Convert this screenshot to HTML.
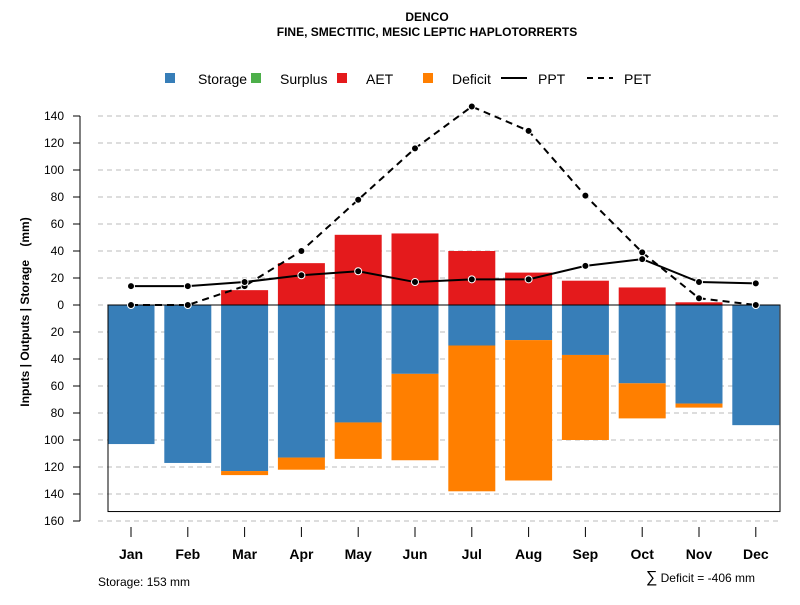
<!DOCTYPE html>
<html><head><meta charset="utf-8"><style>
body{margin:0;background:#fff}
svg text{font-family:"Liberation Sans",sans-serif}
</style></head><body>
<svg id="c" width="800" height="600" xmlns="http://www.w3.org/2000/svg">
<text x="427" y="21" text-anchor="middle" font-size="12" font-weight="bold">DENCO</text>
<text x="427" y="36" text-anchor="middle" font-size="12" font-weight="bold">FINE, SMECTITIC, MESIC LEPTIC HAPLOTORRERTS</text>
<text transform="translate(29,312) rotate(-90)" text-anchor="middle" font-size="12" font-weight="bold">Inputs | Outputs | Storage&#160;&#160;&#160;&#160;(mm)</text>
<text x="98" y="586" font-size="12">Storage: 153 mm</text>
<text x="755" y="582" text-anchor="end" font-size="12"><tspan font-size="16">∑</tspan> Deficit = -406 mm</text>
<g id="legend">
<rect x="165" y="73" width="10" height="10" fill="#377EB8"/><text x="198" y="84" font-size="14">Storage</text>
<rect x="251" y="73" width="10" height="10" fill="#4DAF4A"/><text x="280" y="84" font-size="14">Surplus</text>
<rect x="337" y="73" width="10" height="10" fill="#E41A1C"/><text x="366" y="84" font-size="14">AET</text>
<rect x="423" y="73" width="10" height="10" fill="#FF7F00"/><text x="452" y="84" font-size="14">Deficit</text>
<line x1="501" y1="78" x2="527" y2="78" stroke="#000" stroke-width="2"/><text x="538" y="84" font-size="14">PPT</text>
<line x1="587" y1="78" x2="613" y2="78" stroke="#000" stroke-width="2" stroke-dasharray="6,5"/><text x="624" y="84" font-size="14">PET</text>
</g>
</svg>
<script>
const months=["Jan","Feb","Mar","Apr","May","Jun","Jul","Aug","Sep","Oct","Nov","Dec"];
const aet=[0,0,11,31,52,53,40,24,18,13,2,0];
const storage=[103,117,123,113,87,51,30,26,37,58,73,89];
const deficit=[0,0,3,9,27,64,108,104,63,26,3,0];
const ppt=[14,14,17,22,25,17,19,19,29,34,17,16];
const pet=[0,0,14,40,78,116,147,129,81,39,5,0];
const yTicks=[140,120,100,80,60,40,20,0,20,40,60,80,100,120,140,160];
const yTickVals=[140,120,100,80,60,40,20,0,-20,-40,-60,-80,-100,-120,-140,-160];
const soilStorage=153;
const NS="http://www.w3.org/2000/svg";
const svg=document.getElementById('c');
const y=v=>305-v*1.35;
const x=i=>131+i*56.8;
function mk(t,a,parent){const e=document.createElementNS(NS,t);for(const k in a)e.setAttribute(k,a[k]);(parent||svg).appendChild(e);return e;}
const grid=mk('g',{});


yTickVals.forEach((v,i)=>{
  const g=mk('line',{x1:98,x2:780,y1:y(v),y2:y(v),stroke:'#bbb','stroke-dasharray':'5,4'},grid);
  
  
  const t=mk('line',{x1:73,x2:80,y1:y(v),y2:y(v),stroke:'#000'});
  
  
  const l=mk('text',{x:64,y:y(v)+4,'text-anchor':'end','font-size':12});
  l.textContent=yTicks[i];
  
  
});
const ax=mk('line',{x1:80,x2:80,y1:y(140),y2:y(-160),stroke:'#000'});


const bw=47;
months.forEach((m,i)=>{
  const b1=mk('rect',{x:x(i)-bw/2,y:y(aet[i]),width:bw,height:aet[i]*1.35,fill:'#E41A1C'});
  
  
  const b2=mk('rect',{x:x(i)-bw/2,y:y(0),width:bw,height:storage[i]*1.35,fill:'#377EB8'});
  
  
  const b3=mk('rect',{x:x(i)-bw/2,y:y(-storage[i]),width:bw,height:deficit[i]*1.35,fill:'#FF7F00'});
  
  
  const tk=mk('line',{x1:x(i),x2:x(i),y1:527,y2:537,stroke:'#000'});
  
  
  const lb=mk('text',{x:x(i),y:559,'text-anchor':'middle','font-size':14,'font-weight':'bold'});
  lb.textContent=m;
  
  
});
const box=mk('rect',{x:108,y:y(0),width:672,height:soilStorage*1.35,fill:'none',stroke:'#000'});


function series(arr,dash,name){
  const p=mk('polyline',{points:arr.map((v,i)=>x(i)+','+y(v)).join(' '),fill:'none',stroke:'#000','stroke-width':2,'stroke-dasharray':dash});
  
  
  arr.forEach((v,i)=>{
    const c=mk('circle',{cx:x(i),cy:y(v),r:3.5,fill:'#000',stroke:'#fff','stroke-width':1});
    
    
  });
}
series(pet,'7,5','pet');
series(ppt,'none','ppt');
</script>
</body></html>
